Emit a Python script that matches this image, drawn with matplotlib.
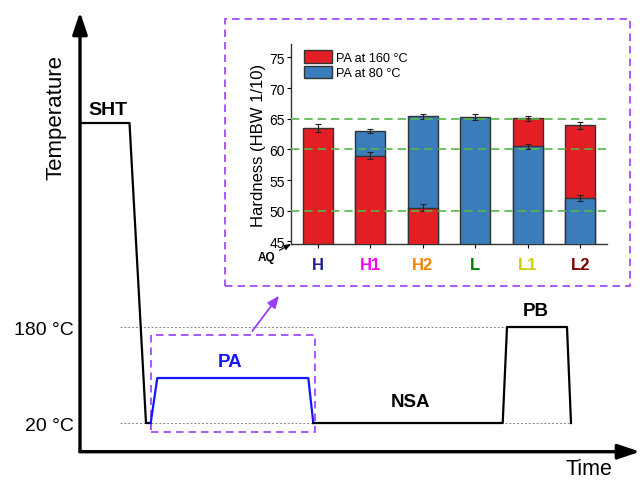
import matplotlib
matplotlib.use("Agg")
import matplotlib.pyplot as plt
from matplotlib.patches import Rectangle
import numpy as np

plt.rcParams['font.family'] = ['Liberation Sans', 'DejaVu Sans']

# ---- heat-treatment schedule (schematic time units, temperature in degC) ----
sht_time = [0, 49.5, 66, 70.7]
sht_temp = [520, 520, 20, 20]
pa_time = [70.7, 77.3, 228.3, 233.3]
pa_temp = [20, 95, 95, 20]
nsa_pb_time = [233.3, 422.7, 427, 487, 491]
nsa_pb_temp = [20, 20, 180, 180, 20]
ref_temps = [20, 180]
ref_labels = ['20 °C', '180 °C']
ref_ends = [491, 427]

# ---- hardness data ----
samples = ['H', 'H1', 'H2', 'L', 'L1', 'L2']
sample_colors = ['#1F1F8F', '#FF00FF', '#FF8000', '#008000', '#CCCC00', '#800000']
hard_160 = [63.5, 59.0, 50.5, np.nan, 65.1, 63.9]
err_160 = [0.6, 0.5, 0.6, np.nan, 0.4, 0.5]
hard_80 = [np.nan, 63.0, 65.4, 65.3, 60.5, 52.0]
err_80 = [np.nan, 0.4, 0.4, 0.5, 0.4, 0.5]
guide_levels = [50, 60, 65]

RED = '#E31E24'
BLUE = '#3A7DBA'
PURPLE = '#9B3DFF'

fig = plt.figure(figsize=(6.4, 4.81), dpi=100)

# ---------------- main schematic axes ----------------
ax = fig.add_axes([80 / 640, (481 - 452.7) / 481, 560 / 640, (452.7 - 13) / 481])
ax.set_xlim(0, 560)
ax.set_ylim(-27.8, 705)
for s in ax.spines.values():
    s.set_visible(False)
ax.set_xticks([])
ax.set_yticks(ref_temps)
ax.set_yticklabels(ref_labels, fontsize=14)
ax.tick_params(axis='y', length=0, pad=4.3)

arrow_kw = dict(arrowstyle='-|>,head_length=0.95,head_width=0.32', lw=2.4,
                color='black', mutation_scale=14, shrinkA=0, shrinkB=0)
ax.annotate('', xy=(1, 0), xytext=(0, 0), xycoords='axes fraction',
            arrowprops=arrow_kw, annotation_clip=False)
ax.annotate('', xy=(0, 1), xytext=(0, 0), xycoords='axes fraction',
            arrowprops=arrow_kw, annotation_clip=False)

for t, end in zip(ref_temps, ref_ends):
    ax.plot([40, end], [t, t], ls=(0, (2, 2)), color='#888888', lw=0.7, zorder=1)

ax.plot(sht_time, sht_temp, color='black', lw=1.6, zorder=3)
ax.plot(pa_time, pa_temp, color='#1515FF', lw=1.6, zorder=3)
ax.plot(nsa_pb_time, nsa_pb_temp, color='black', lw=1.6, zorder=3)

ax.add_patch(Rectangle((70.7, 4.2), 235 - 70.7, 167.2 - 4.2, fill=False,
                       ec=PURPLE, lw=1.2, ls=(0, (4.5, 3)), zorder=2))
ax.add_patch(Rectangle((145, 248.9), 405, 444.4, fill=False,
                       ec=PURPLE, lw=1.2, ls=(0, (4.5, 3)), zorder=2))
ax.annotate('', xy=(199, 232.2), xytext=(172.3, 173.3),
            arrowprops=dict(arrowstyle='-|>,head_length=0.6,head_width=0.25',
                            color=PURPLE, lw=1.3, mutation_scale=12,
                            shrinkA=0, shrinkB=0))

ax.text(28, 543, 'SHT', fontsize=14, fontweight='bold', ha='center', va='center')
ax.text(150, 123, 'PA', fontsize=13.5, fontweight='bold', ha='center', va='center',
        color='#1515FF')
ax.text(331, 55.5, 'NSA', fontsize=13.5, fontweight='bold', ha='center', va='center')
ax.text(456, 207, 'PB', fontsize=13.5, fontweight='bold', ha='center', va='center')

ax.text(-0.043, 0.762, 'Temperature', transform=ax.transAxes, rotation=90,
        fontsize=16, ha='center', va='center')
ax.text(0.909, -0.038, 'Time', transform=ax.transAxes, fontsize=15.5,
        ha='center', va='center')

# ---------------- hardness inset ----------------
ax2 = fig.add_axes([291 / 640, (481 - 245) / 481, 316 / 640, 200 / 481])
x = np.arange(len(samples))
width = 0.57
bars160 = ax2.bar(x, hard_160, width, color=RED, edgecolor='#333333', lw=1.0,
                  label='PA at 160 °C')
bars80 = ax2.bar(x, hard_80, width, color=BLUE, edgecolor='#333333', lw=1.0,
                 label='PA at 80 °C')
# the shorter segment of each column sits on top of the taller one
for i in range(len(samples)):
    a, b = hard_160[i], hard_80[i]
    if np.isnan(a) or np.isnan(b):
        continue
    if a < b:
        bars160[i].set_zorder(3)
        bars80[i].set_zorder(2)
    else:
        bars80[i].set_zorder(3)
        bars160[i].set_zorder(2)

ax2.errorbar(x, hard_160, yerr=err_160, fmt='none', ecolor='#222222',
             elinewidth=0.8, capsize=2.5, capthick=0.8, zorder=5)
ax2.errorbar(x, hard_80, yerr=err_80, fmt='none', ecolor='#222222',
             elinewidth=0.8, capsize=2.5, capthick=0.8, zorder=5)

for lvl in guide_levels:
    ax2.axhline(lvl, color='#55B84A', lw=1.2, ls=(0, (5, 3)), zorder=6)

ax2.set_xlim(-0.51, 5.51)
ax2.set_ylim(44.56, 77.2)
ax2.set_yticks(range(45, 80, 5))
ax2.tick_params(axis='y', labelsize=10, length=3, width=0.8, pad=1.5)
ax2.set_xticks(x)
ax2.set_xticklabels(samples, fontsize=12, fontweight='bold')
for lab, c in zip(ax2.get_xticklabels(), sample_colors):
    lab.set_color(c)
ax2.tick_params(axis='x', length=3, width=0.8, pad=6)
for side in ['top', 'right']:
    ax2.spines[side].set_visible(False)
for side in ['left', 'bottom']:
    ax2.spines[side].set_linewidth(1.0)
    ax2.spines[side].set_color('#333333')
ax2.set_ylabel('Hardness (HBW 1/10)', fontsize=12)
ax2.yaxis.set_label_coords(-0.079, 0.5)

ax2.legend(loc='upper left', bbox_to_anchor=(0.02, 1.0), frameon=False,
           fontsize=9.2, handlelength=2.2, handleheight=1.1, labelspacing=0.15,
           handletextpad=0.3, borderaxespad=0.3, borderpad=0.2)

ax2.annotate('AQ', xy=(0, 0), xycoords='axes fraction',
             xytext=(-0.077, -0.067), textcoords='axes fraction',
             fontsize=8.5, fontweight='bold', ha='center', va='center',
             arrowprops=dict(arrowstyle='-|>,head_length=0.5,head_width=0.2',
                             color='black', lw=0.8, mutation_scale=8,
                             shrinkA=1, shrinkB=0),
             annotation_clip=False)

fig.savefig('out.png', dpi=100)
